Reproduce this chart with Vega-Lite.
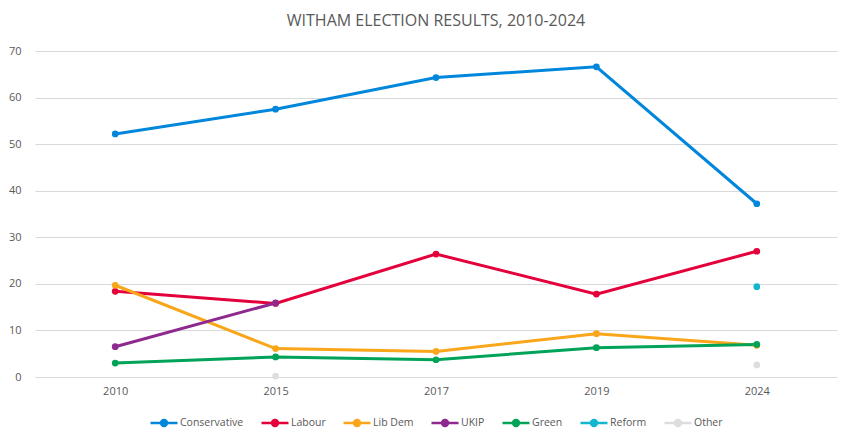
{
  "$schema": "https://vega.github.io/schema/vega-lite/v6.json",
  "width": 851,
  "height": 440,
  "autosize": {"type": "fit", "contains": "padding"},
  "padding": {"left": 8, "right": 14, "top": 13, "bottom": 9},
  "background": "white",
  "title": {
    "text": "WITHAM ELECTION RESULTS, 2010-2024",
    "fontSize": 16,
    "fontWeight": "normal",
    "font": "Open Sans",
    "color": "#595959",
    "offset": 16
  },
  "data": {
    "values": [
      {"year": "2010", "party": "Conservative", "share": 52.2},
      {"year": "2015", "party": "Conservative", "share": 57.5},
      {"year": "2017", "party": "Conservative", "share": 64.3},
      {"year": "2019", "party": "Conservative", "share": 66.6},
      {"year": "2024", "party": "Conservative", "share": 37.2},
      {"year": "2010", "party": "Labour", "share": 18.4},
      {"year": "2015", "party": "Labour", "share": 15.8},
      {"year": "2017", "party": "Labour", "share": 26.4},
      {"year": "2019", "party": "Labour", "share": 17.8},
      {"year": "2024", "party": "Labour", "share": 27.0},
      {"year": "2010", "party": "Lib Dem", "share": 19.7},
      {"year": "2015", "party": "Lib Dem", "share": 6.1},
      {"year": "2017", "party": "Lib Dem", "share": 5.5},
      {"year": "2019", "party": "Lib Dem", "share": 9.3},
      {"year": "2024", "party": "Lib Dem", "share": 6.8},
      {"year": "2010", "party": "UKIP", "share": 6.5},
      {"year": "2015", "party": "UKIP", "share": 15.9},
      {"year": "2010", "party": "Green", "share": 3.0},
      {"year": "2015", "party": "Green", "share": 4.3},
      {"year": "2017", "party": "Green", "share": 3.7},
      {"year": "2019", "party": "Green", "share": 6.3},
      {"year": "2024", "party": "Green", "share": 7.0},
      {"year": "2024", "party": "Reform", "share": 19.4},
      {"year": "2015", "party": "Other", "share": 0.2},
      {"year": "2017", "party": "Other", "share": null},
      {"year": "2019", "party": "Other", "share": null},
      {"year": "2024", "party": "Other", "share": 2.6}
    ]
  },
  "mark": {"type": "line", "strokeWidth": 3, "point": {"filled": true, "size": 45}},
  "encoding": {
    "x": {
      "field": "year",
      "type": "ordinal",
      "scale": {"type": "point", "padding": 0.5},
      "axis": {"title": null, "labelAngle": 0, "ticks": false, "domain": false, "grid": false, "labelPadding": 8}
    },
    "y": {
      "field": "share",
      "type": "quantitative",
      "scale": {"domain": [0, 70]},
      "axis": {"title": null, "values": [0, 10, 20, 30, 40, 50, 60, 70], "ticks": false, "domain": false, "labelPadding": 14}
    },
    "color": {
      "field": "party",
      "type": "nominal",
      "scale": {
        "domain": ["Conservative", "Labour", "Lib Dem", "UKIP", "Green", "Reform", "Other"],
        "range": ["#0087DC", "#E4003B", "#FAA61A", "#8E2A8E", "#00A357", "#12B6CF", "#DDDDDD"]
      },
      "legend": {
        "title": null,
        "orient": "bottom",
        "direction": "horizontal",
        "symbolType": "M-1,0L1,0M-0.22,0A0.22,0.22,0,1,1,0.22,0A0.22,0.22,0,1,1,-0.22,0Z",
        "symbolSize": 729,
        "symbolStrokeWidth": 2.5,
        "labelOffset": 1,
        "columnPadding": 12,
        "offset": 12
      }
    }
  },
  "config": {
    "view": {"stroke": null},
    "font": "Open Sans",
    "axis": {"labelColor": "#595959", "labelFontSize": 11, "gridColor": "#D9D9D9", "gridWidth": 1},
    "legend": {"labelColor": "#595959", "labelFontSize": 10.5, "layout": {"bottom": {"anchor": "middle"}}}
  }
}
